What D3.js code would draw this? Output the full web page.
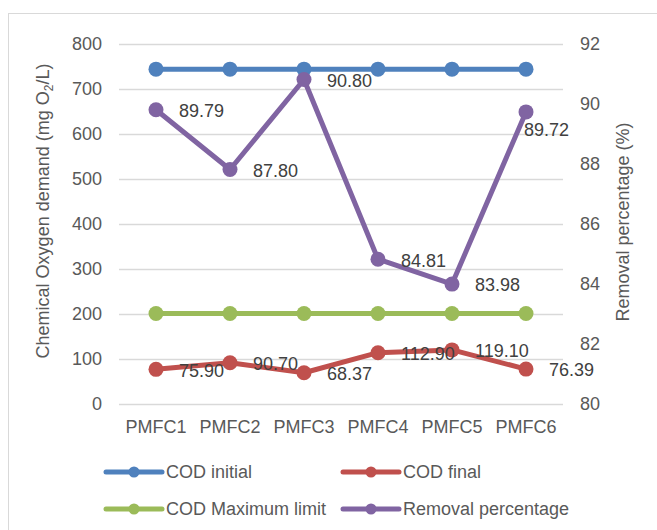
<!DOCTYPE html>
<html>
<head>
<meta charset="utf-8">
<script src="https://cdn.jsdelivr.net/npm/d3@7"></script>
<style>
  html, body { margin: 0; padding: 0; background: #fff; }
  svg { display: block; font-family: "Liberation Sans", Arial, sans-serif; }
</style>
</head>
<body>
<svg id="chart" width="657" height="530"></svg>
<script>
// Reactor labels along the category axis
const categories = ["PMFC1", "PMFC2", "PMFC3", "PMFC4", "PMFC5", "PMFC6"];

// COD values in mg O2/L
const codInitial = [743, 743, 743, 743, 743, 743];
const codFinal = [75.90, 90.70, 68.37, 112.90, 119.10, 76.39];
const codMaxLimit = [200, 200, 200, 200, 200, 200];

// Removal efficiency in % (secondary axis)
const removalPct = [89.79, 87.80, 90.80, 84.81, 83.98, 89.72];

// Axis ticks
const leftTicks = [0, 100, 200, 300, 400, 500, 600, 700, 800];
const rightTicks = [80, 82, 84, 86, 88, 90, 92];

const series = [
  { name: "COD initial", values: codInitial, color: "#4F81BD", axis: "left", labels: false },
  { name: "COD final", values: codFinal, color: "#C0504D", axis: "left", labels: true },
  { name: "COD Maximum limit", values: codMaxLimit, color: "#9BBB59", axis: "left", labels: false },
  { name: "Removal percentage", values: removalPct, color: "#8064A2", axis: "right", labels: true }
];

const svg = d3.select("#chart");
const textColor = "#595959";
const gridColor = "#D9D9D9";

// Chart frame
svg.append("rect")
  .attr("x", 8.5).attr("y", 13.5)
  .attr("width", 700).attr("height", 600)
  .attr("fill", "#fff")
  .attr("stroke", gridColor).attr("stroke-width", 1);

const plot = { left: 119, right: 563, top: 43.5, bottom: 403.5 };

const x = d3.scaleBand().domain(categories).range([plot.left, plot.right]).paddingInner(0).paddingOuter(0);
const cx = d => x(d) + x.bandwidth() / 2;
const yL = d3.scaleLinear().domain([0, 800]).range([plot.bottom, plot.top]);
const yR = d3.scaleLinear().domain([80, 92]).range([plot.bottom, plot.top]);

// Horizontal gridlines
svg.append("g")
  .selectAll("line")
  .data(leftTicks)
  .join("line")
  .attr("x1", plot.left).attr("x2", plot.right)
  .attr("y1", d => Math.round(yL(d)) + 0.5).attr("y2", d => Math.round(yL(d)) + 0.5)
  .attr("stroke", gridColor).attr("stroke-width", 1.3);

const styleTicks = g => g.selectAll("text")
  .attr("fill", textColor).attr("font-size", 18)
  .attr("font-family", "Liberation Sans, Arial, sans-serif");

// Left axis
const leftAxis = svg.append("g")
  .attr("transform", `translate(${plot.left - 17},0)`)
  .call(d3.axisLeft(yL).tickValues(leftTicks).tickSize(0).tickPadding(0));
leftAxis.select(".domain").remove();
styleTicks(leftAxis);

// Right axis
const rightAxis = svg.append("g")
  .attr("transform", `translate(${plot.right + 17},0)`)
  .call(d3.axisRight(yR).tickValues(rightTicks).tickSize(0).tickPadding(0));
rightAxis.select(".domain").remove();
styleTicks(rightAxis);

// Category axis
const bottomAxis = svg.append("g")
  .attr("transform", `translate(0,${plot.bottom + 17})`)
  .call(d3.axisBottom(x).tickSize(0).tickPadding(0));
bottomAxis.select(".domain").remove();
styleTicks(bottomAxis);

// Axis titles
const leftTitle = svg.append("text")
  .attr("transform", "translate(49,211) rotate(-90)")
  .attr("text-anchor", "middle")
  .attr("fill", textColor).attr("font-size", 18);
leftTitle.append("tspan").text("Chemical Oxygen demand (mg O");
leftTitle.append("tspan").attr("font-size", 12).attr("dy", 4).text("2");
leftTitle.append("tspan").attr("dy", -4).text("/L)");

svg.append("text")
  .attr("transform", "translate(629,222) rotate(-90)")
  .attr("text-anchor", "middle")
  .attr("fill", textColor).attr("font-size", 18)
  .text("Removal percentage (%)");

// Series lines, markers and labels
const lineGen = (yScale) => d3.line().x((d, i) => cx(categories[i])).y(d => yScale(d));

series.forEach(s => {
  const yScale = s.axis === "left" ? yL : yR;
  const g = svg.append("g");
  g.append("path")
    .datum(s.values)
    .attr("d", lineGen(yScale))
    .attr("fill", "none")
    .attr("stroke", s.color).attr("stroke-width", 5)
    .attr("stroke-linejoin", "round");
  g.selectAll("circle")
    .data(s.values)
    .join("circle")
    .attr("cx", (d, i) => cx(categories[i]))
    .attr("cy", d => yScale(d))
    .attr("r", 7.5)
    .attr("fill", s.color);
});

// Data labels sit to the right of each marker; the last removal label
// drops below its marker so it clears the secondary axis labels.
series.filter(s => s.labels).forEach(s => {
  const yScale = s.axis === "left" ? yL : yR;
  const below = (i) => s.axis === "right" && i === categories.length - 1;
  svg.append("g")
    .selectAll("text")
    .data(s.values)
    .join("text")
    .attr("x", (d, i) => cx(categories[i]) + (below(i) ? -2 : 23))
    .attr("y", (d, i) => yScale(d) + (below(i) ? 18 : 1))
    .attr("dy", "0.35em")
    .attr("fill", "#404040").attr("font-size", 18)
    .text(d => d.toFixed(2));
});

// Legend
const legendPos = [
  { x: 106, y: 472 }, { x: 343, y: 472 },
  { x: 106, y: 509 }, { x: 343, y: 509 }
];
const legend = svg.append("g")
  .selectAll("g")
  .data(series)
  .join("g")
  .attr("transform", (d, i) => `translate(${legendPos[i].x},${legendPos[i].y})`);
legend.append("line")
  .attr("x1", 0).attr("x2", 56).attr("y1", 0).attr("y2", 0)
  .attr("stroke", d => d.color).attr("stroke-width", 5).attr("stroke-linecap", "round");
legend.append("circle")
  .attr("cx", 28).attr("cy", 0).attr("r", 5.5)
  .attr("fill", d => d.color);
legend.append("text")
  .attr("x", 60).attr("y", 0).attr("dy", "0.35em")
  .attr("fill", textColor).attr("font-size", 18)
  .text(d => d.name);
</script>
</body>
</html>
